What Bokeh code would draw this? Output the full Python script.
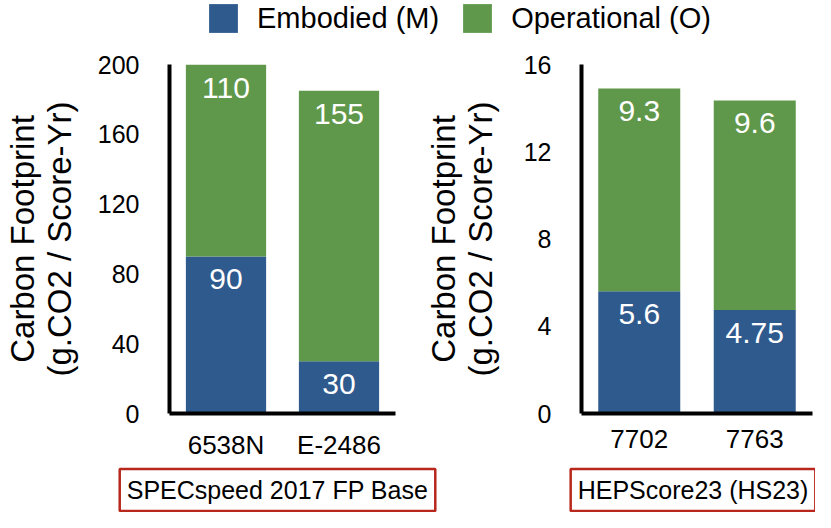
from bokeh.plotting import figure
from bokeh.models import (FactorRange, Range1d, FixedTicker, Label, Legend,
                          LegendItem, ColumnDataSource)
from bokeh.layouts import column, row
from bokeh.core.properties import value
from bokeh.embed import file_html
from bokeh.resources import INLINE

# ---------------- data ----------------
series_names = ["Embodied (M)", "Operational (O)"]

left_cats = ["6538N", "E-2486"]
left_embodied = [90, 30]
left_operational = [110, 155]
left_ticks = [0, 40, 80, 120, 160, 200]
left_bench = "SPECspeed 2017 FP Base"

right_cats = ["7702", "7763"]
right_embodied = [5.6, 4.75]
right_operational = [9.3, 9.6]
right_ticks = [0, 4, 8, 12, 16]
right_bench = "HEPScore23 (HS23)"

y_title = "Carbon Footprint\n(g.CO2 / Score-Yr)"

# ---------------- style / layout ----------------
BLUE = "#2f5a8d"
GREEN = "#5f984a"
RED = "#b8271c"
FONT = value("Liberation Sans")
FONT_NAME = "Liberation Sans"

TOTAL_W = 815
LEG_H = 50
FRAME_H = 356
TOP_B = 14
BOT_B = 42
STRIP_H = 50

P1_W, P1_BL, P1_BR = 421, 159, 26
P2_W, P2_BL, P2_BR = 394, 160, 3


def make_panel(cats, emb, op, ticks, width, bl, br, title_standoff):
    ymax = ticks[-1]
    p = figure(width=width, height=TOP_B + FRAME_H + BOT_B,
               x_range=FactorRange(factors=cats), y_range=Range1d(0, ymax),
               toolbar_location=None, output_backend="svg",
               min_border_left=bl, min_border_right=br,
               min_border_top=TOP_B, min_border_bottom=BOT_B)
    src = ColumnDataSource(dict(cat=cats, M=emb, O=op))
    p.vbar_stack(["M", "O"], x="cat", width=0.71, color=[BLUE, GREEN],
                 line_color=None, source=src)

    tops_m = list(emb)
    tops_o = [m + o for m, o in zip(emb, op)]
    lab = ColumnDataSource(dict(
        x=list(cats) + list(cats),
        y=tops_m + tops_o,
        t=[f"{v:g}" for v in emb] + [f"{v:g}" for v in op]))
    p.text(x="x", y="y", text="t", source=lab, text_color="white",
           text_font=FONT, text_font_size="30px", text_align="center",
           text_baseline="middle", y_offset=23)

    p.xgrid.visible = False
    p.ygrid.visible = False
    p.outline_line_color = None

    for ax in (p.xaxis[0], p.yaxis[0]):
        ax.axis_line_width = 4
        ax.axis_line_color = "black"
        ax.major_tick_line_color = None
        ax.minor_tick_line_color = None
        ax.major_label_text_font = FONT_NAME
        ax.major_label_text_color = "black"

    p.yaxis.ticker = FixedTicker(ticks=ticks)
    p.yaxis.major_label_text_font_size = "25px"
    p.yaxis.major_label_standoff = 24
    p.yaxis.axis_label = y_title
    p.yaxis.axis_label_text_font = FONT_NAME
    p.yaxis.axis_label_text_font_size = "33px"
    p.yaxis.axis_label_text_font_style = "normal"
    p.yaxis.axis_label_text_color = "black"
    p.yaxis.axis_label_text_line_height = 1.0
    p.yaxis.axis_label_standoff = title_standoff

    p.xaxis.major_label_text_font_size = "26px"
    p.xaxis.major_label_standoff = 10
    return p


p1 = make_panel(left_cats, left_embodied, left_operational, left_ticks,
                P1_W, P1_BL, P1_BR, 17)
p2 = make_panel(right_cats, right_embodied, right_operational, right_ticks,
                P2_W, P2_BL, P2_BR, 22)

# ---------------- legend strip ----------------
lf = figure(width=TOTAL_W, height=LEG_H, x_range=(0, 1), y_range=(0, 1),
            toolbar_location=None, output_backend="svg", min_border=0,
            x_axis_type=None, y_axis_type=None)
lf.xgrid.visible = False
lf.ygrid.visible = False
lf.outline_line_color = None
r_m = lf.vbar(x=[0.5], top=[0], bottom=[0], width=0, color=BLUE,
              line_color=None)
r_o = lf.vbar(x=[0.5], top=[0], bottom=[0], width=0, color=GREEN,
              line_color=None)
legend = Legend(items=[LegendItem(label=series_names[0], renderers=[r_m]),
                       LegendItem(label=series_names[1], renderers=[r_o])],
                orientation="horizontal", location=(205, 14),
                glyph_width=36, glyph_height=36, label_standoff=16,
                spacing=20, padding=0, margin=0, border_line_color=None,
                background_fill_alpha=0, label_text_font=FONT_NAME,
                label_text_font_size="29px", label_text_color="black")
lf.add_layout(legend)

# ---------------- benchmark name boxes ----------------
bf = figure(width=TOTAL_W, height=STRIP_H, x_range=(0, TOTAL_W),
            y_range=(0, STRIP_H), toolbar_location=None,
            output_backend="svg", min_border=0,
            x_axis_type=None, y_axis_type=None)
bf.xgrid.visible = False
bf.ygrid.visible = False
bf.outline_line_color = None
centers = [P1_BL + (P1_W - P1_BL - P1_BR) / 2,
           P1_W + P2_BL + (P2_W - P2_BL - P2_BR) / 2 - 4]
for cx, name in zip(centers, [left_bench, right_bench]):
    bf.add_layout(Label(x=cx, y=STRIP_H - 27.5, text=name,
                        text_font=FONT_NAME, text_font_size="25px",
                        text_align="center", text_baseline="middle",
                        text_color="black", border_line_color=RED,
                        border_line_width=2.5, background_fill_color="white",
                        padding=7))

page = column(lf, row(p1, p2), bf)
open("out.html", "w").write(file_html(page, INLINE))
